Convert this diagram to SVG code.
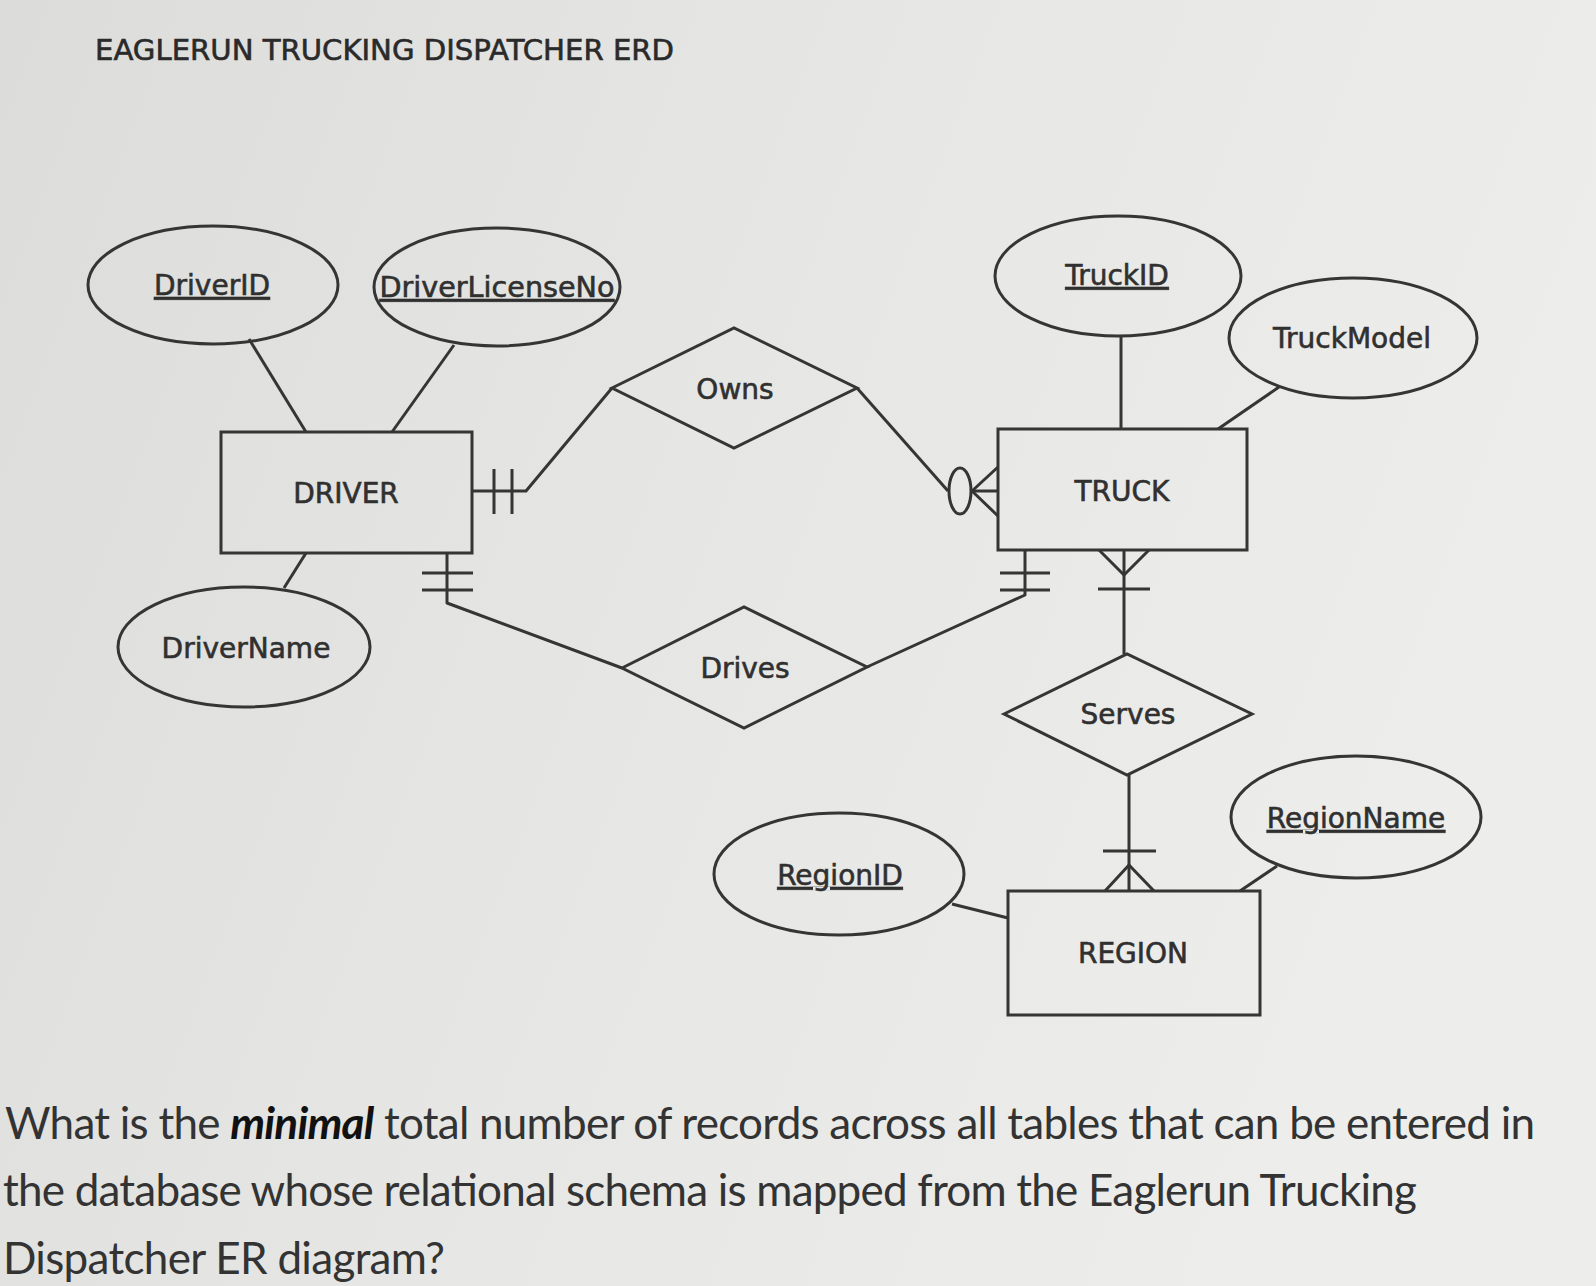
<svg xmlns="http://www.w3.org/2000/svg" width="1596" height="1286" viewBox="0 0 1596 1286">
<style>
.shape{fill:none;stroke:#353535;stroke-width:3}
.ln{fill:none;stroke:#353535;stroke-width:3;stroke-linejoin:round}
.lbl{font-family:'DejaVu Sans',Verdana,sans-serif;font-size:28px;fill:#303030;stroke:#303030;stroke-width:0.6;text-anchor:middle}
.pk{text-decoration:underline}
.q{font-family:Lato,'Open Sans',sans-serif;font-size:44px;fill:#333333}
</style>
<defs>
<linearGradient id="bg" x1="0" y1="0" x2="1" y2="0.3">
<stop offset="0" stop-color="#dcdcda"/>
<stop offset="0.5" stop-color="#e6e6e4"/>
<stop offset="1" stop-color="#ededeb"/>
</linearGradient>
</defs>
<rect x="0" y="0" width="1596" height="1286" fill="url(#bg)"/>
<text x="95" y="60" font-family="'DejaVu Sans',Verdana,sans-serif" font-size="28" fill="#2a2a2a" stroke="#2a2a2a" stroke-width="0.6" textLength="579" lengthAdjust="spacingAndGlyphs">EAGLERUN TRUCKING DISPATCHER ERD</text>

<g id="connectors">
<line class="ln" x1="249" y1="339" x2="306" y2="432"/>
<line class="ln" x1="454" y1="345" x2="392" y2="432"/>
<line class="ln" x1="306" y1="553" x2="284" y2="588"/>
<polyline class="ln" points="472,491 526,491 612,388"/>
<line class="ln" x1="494" y1="469" x2="494" y2="514"/>
<line class="ln" x1="512" y1="469" x2="512" y2="514"/>
<polyline class="ln" points="447,553 447,603 622,668"/>
<line class="ln" x1="422" y1="573" x2="473" y2="573"/>
<line class="ln" x1="422" y1="590" x2="473" y2="590"/>
<polyline class="ln" points="857,388 948,491"/>
<ellipse class="shape" cx="960" cy="491" rx="11" ry="23"/>
<polyline class="ln" points="998,467 972,491 998,516"/>
<line class="ln" x1="972" y1="491" x2="998" y2="491"/>
<polyline class="ln" points="1025,550 1025,595 867,667"/>
<line class="ln" x1="1000" y1="573" x2="1050" y2="573"/>
<line class="ln" x1="1000" y1="590" x2="1050" y2="590"/>
<line class="ln" x1="1121" y1="336" x2="1121" y2="429"/>
<line class="ln" x1="1279" y1="387" x2="1218" y2="429"/>
<line class="ln" x1="1124" y1="550" x2="1124" y2="654"/>
<polyline class="ln" points="1099,550 1124,575 1149,550"/>
<line class="ln" x1="1098" y1="589" x2="1150" y2="589"/>
<line class="ln" x1="1129" y1="775" x2="1129" y2="891"/>
<line class="ln" x1="1103" y1="851" x2="1156" y2="851"/>
<polyline class="ln" points="1105,891 1129,865 1154,891"/>
<line class="ln" x1="952" y1="904" x2="1008" y2="918"/>
<line class="ln" x1="1277" y1="866" x2="1240" y2="891"/>
</g>

<g id="DriverID"><ellipse class="shape" cx="213" cy="285" rx="125" ry="59"/><text class="lbl pk" x="212" y="295">DriverID</text></g>
<g id="DriverLicenseNo"><ellipse class="shape" cx="497" cy="287" rx="123" ry="59"/><text class="lbl pk" x="497" y="297" textLength="235" lengthAdjust="spacingAndGlyphs">DriverLicenseNo</text></g>
<g id="DRIVER"><rect class="shape" x="221" y="432" width="251" height="121"/><text class="lbl" x="346" y="503">DRIVER</text></g>
<g id="DriverName"><ellipse class="shape" cx="244" cy="647" rx="126" ry="60"/><text class="lbl" x="246" y="658">DriverName</text></g>
<g id="Owns"><polygon class="shape" points="612,388 734,328 857,388 734,448"/><text class="lbl" x="735" y="399">Owns</text></g>
<g id="Drives"><polygon class="shape" points="622,668 744,607 867,667 744,728"/><text class="lbl" x="745" y="678">Drives</text></g>
<g id="TruckID"><ellipse class="shape" cx="1118" cy="276" rx="123" ry="60"/><text class="lbl pk" x="1117" y="285">TruckID</text></g>
<g id="TruckModel"><ellipse class="shape" cx="1353" cy="338" rx="124" ry="60"/><text class="lbl" x="1352" y="348">TruckModel</text></g>
<g id="TRUCK"><rect class="shape" x="998" y="429" width="249" height="121"/><text class="lbl" x="1122" y="501">TRUCK</text></g>
<g id="Serves"><polygon class="shape" points="1004,714 1127,654 1252,714 1127,775"/><text class="lbl" x="1128" y="724">Serves</text></g>
<g id="RegionName"><ellipse class="shape" cx="1356" cy="817" rx="125" ry="61"/><text class="lbl pk" x="1356" y="828">RegionName</text></g>
<g id="RegionID"><ellipse class="shape" cx="839" cy="874" rx="125" ry="61"/><text class="lbl pk" x="840" y="885">RegionID</text></g>
<g id="REGION"><rect class="shape" x="1008" y="891" width="252" height="124"/><text class="lbl" x="1133" y="963">REGION</text></g>

<text class="q" x="5" y="1139" textLength="1530" lengthAdjust="spacing">What is the <tspan font-weight="bold" font-style="italic" fill="#111">minimal</tspan> total number of records across all tables that can be entered in</text>
<text class="q" x="3" y="1206" textLength="1414" lengthAdjust="spacing">the database whose relational schema is mapped from the Eaglerun Trucking</text>
<text class="q" x="3" y="1274" textLength="442" lengthAdjust="spacing">Dispatcher ER diagram?</text>
</svg>
